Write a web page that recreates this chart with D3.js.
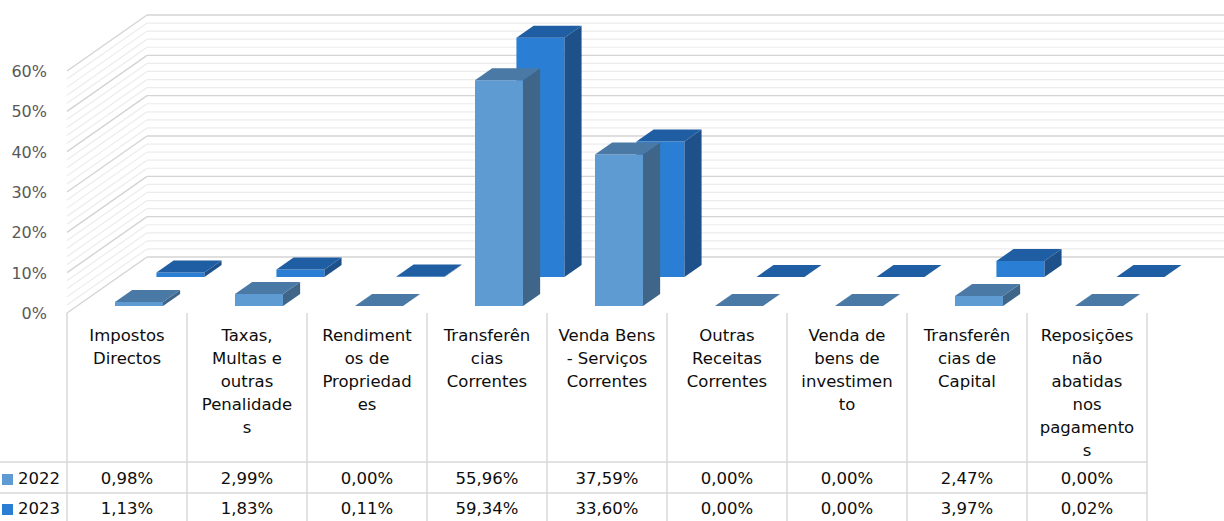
<!DOCTYPE html>
<html>
<head>
<meta charset="utf-8">
<script src="https://cdn.jsdelivr.net/npm/d3@7"></script>
<style>
  body { margin: 0; background: #fff; }
  svg { display: block; font-family: "DejaVu Sans", sans-serif; }
</style>
</head>
<body>
<div class="canvas"></div>
<script>
// data
const categories = [
    'Impostos\nDirectos',
    'Taxas,\nMultas e\noutras\nPenalidade\ns',
    'Rendiment\nos de\nPropriedad\nes',
    'Transferên\ncias\nCorrentes',
    'Venda Bens\n- Serviços\nCorrentes',
    'Outras\nReceitas\nCorrentes',
    'Venda de\nbens de\ninvestimen\nto',
    'Transferên\ncias de\nCapital',
    'Reposições\nnão\nabatidas\nnos\npagamento\ns'
];
const years = ['2022', '2023'];
const values2022 = [0.98, 2.99, 0.00, 55.96, 37.59, 0.00, 0.00, 2.47, 0.00];
const values2023 = [1.13, 1.83, 0.11, 59.34, 33.60, 0.00, 0.00, 3.97, 0.02];
const yTickValues = [0, 10, 20, 30, 40, 50, 60];

const series = [
    { year: years[0], values: values2022, front: '#5f9bd3', side: '#3f6688', top: '#4a79a5' },
    { year: years[1], values: values2023, front: '#2a7fd4', side: '#1e5089', top: '#1f5ea3' }
];

const W = 1224, H = 521;
const baseY = 313;          // front floor line
const floorDepth = 56;      // vertical offset of back wall
const k = 80 / 56;          // horizontal shift per unit of depth
const tableLeft = 67, tableRight = 1147;

const svg = d3.select('.canvas').append('svg')
    .attr('width', W)
    .attr('height', H);

// scales
const y = d3.scaleLinear().domain([0, 60]).range([0, 242]);
const xCol = d3.scaleBand().domain(categories).range([tableLeft, tableRight]);
const xBar = d3.scaleBand().domain(categories).range([tableLeft + 2, tableRight + 2])
    .paddingInner(0.6).paddingOuter(0.3);
const depth = d3.scaleBand().domain(years).range([0, 55])
    .paddingInner(0.586).paddingOuter(0.241);

const fmt = d3.formatLocale({ decimal: ',', thousands: '.', grouping: [3], currency: ['', ''] });
const pct = v => fmt.format('.2f')(v) + '%';

// GRID (left wall + back wall)
const grid = svg.append('g');
y.ticks(30).forEach(v => {
    const major = v % 10 === 0;
    const col = major ? '#d4d4d4' : '#ececec';
    const yy = baseY - y(v);
    grid.append('line')
        .attr('x1', tableLeft).attr('y1', yy)
        .attr('x2', tableLeft + floorDepth * k).attr('y2', yy - floorDepth)
        .attr('stroke', col).attr('stroke-width', major ? 1.4 : 1.2);
    grid.append('line')
        .attr('x1', tableLeft + floorDepth * k).attr('y1', yy - floorDepth)
        .attr('x2', W).attr('y2', yy - floorDepth)
        .attr('stroke', col).attr('stroke-width', major ? 1.4 : 1.2);
});

// y axis labels
svg.append('g').selectAll('text')
    .data(yTickValues)
    .join('text')
    .attr('x', 47)
    .attr('y', d => baseY - y(d) + 6)
    .attr('text-anchor', 'end')
    .attr('fill', '#595959')
    .style('font-size', '16px')
    .text(d => d + '%');

// BARS (back row first)
const bars = svg.append('g');
const pts = p => p.map(q => q.join(',')).join(' ');
[...series].reverse().forEach(s => {
    const d0 = depth(s.year), d1 = d0 + depth.bandwidth();
    s.values.forEach((v, i) => {
        const x0 = xBar(categories[i]), x1 = x0 + xBar.bandwidth();
        const h = y(v);
        const g = bars.append('g');
        // front
        g.append('polygon')
            .attr('points', pts([
                [x0 + d0 * k, baseY - d0 - h], [x1 + d0 * k, baseY - d0 - h],
                [x1 + d0 * k, baseY - d0], [x0 + d0 * k, baseY - d0]]))
            .attr('fill', s.front);
        // side
        g.append('polygon')
            .attr('points', pts([
                [x1 + d0 * k, baseY - d0 - h], [x1 + d1 * k, baseY - d1 - h],
                [x1 + d1 * k, baseY - d1], [x1 + d0 * k, baseY - d0]]))
            .attr('fill', s.side);
        // top
        g.append('polygon')
            .attr('points', pts([
                [x0 + d0 * k, baseY - d0 - h], [x1 + d0 * k, baseY - d0 - h],
                [x1 + d1 * k, baseY - d1 - h], [x0 + d1 * k, baseY - d1 - h]]))
            .attr('fill', s.top);
    });
});

// DATA TABLE
const table = svg.append('g');
const lineCol = '#d9d9d9';
categories.concat(['end']).forEach((c, i) => {
    const xx = tableLeft + i * xCol.step();
    table.append('line')
        .attr('x1', xx).attr('x2', xx)
        .attr('y1', baseY).attr('y2', H)
        .attr('stroke', lineCol).attr('stroke-width', 1.5);
});
[462, 493].forEach(yy => {
    table.append('line')
        .attr('x1', 0).attr('x2', tableRight)
        .attr('y1', yy).attr('y2', yy)
        .attr('stroke', lineCol).attr('stroke-width', 1.5);
});

// category labels
categories.forEach(c => {
    const t = table.append('text')
        .attr('text-anchor', 'middle')
        .attr('fill', '#0d0d0d')
        .style('font-size', '16.5px');
    c.split('\n').forEach((line, j) => {
        t.append('tspan')
            .attr('x', xCol(c) + xCol.bandwidth() / 2)
            .attr('y', 341 + j * 23)
            .text(line);
    });
});

// values + legend keys
series.forEach((s, r) => {
    const rowY = 484 + r * 30;
    table.append('rect')
        .attr('x', 2).attr('y', rowY - 10)
        .attr('width', 11).attr('height', 11)
        .attr('fill', s.front);
    table.append('text')
        .attr('x', 18).attr('y', rowY)
        .attr('fill', '#0d0d0d')
        .style('font-size', '16.5px')
        .text(s.year);
    s.values.forEach((v, i) => {
        table.append('text')
            .attr('x', xCol(categories[i]) + xCol.bandwidth() / 2)
            .attr('y', rowY)
            .attr('text-anchor', 'middle')
            .attr('fill', '#0d0d0d')
            .style('font-size', '16.5px')
            .text(pct(v));
    });
});
</script>
</body>
</html>
